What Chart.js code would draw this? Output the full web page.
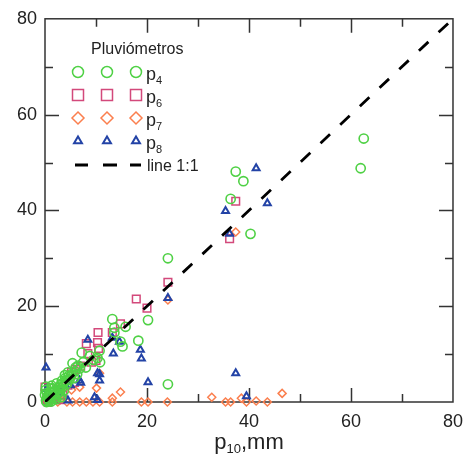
<!DOCTYPE html>
<html>
<head>
<meta charset="utf-8">
<script src="https://cdn.jsdelivr.net/npm/chart.js@4/dist/chart.umd.min.js"></script>
<style>
  html, body { margin: 0; padding: 0; background: #fff; }
  canvas { display: block; }
</style>
</head>
<body>
<canvas id="c" width="472" height="455"></canvas>
<script>
// p10 (x) vs gauge readings (y), mm
const p4X = [62.5, 61.9, 37.4, 38.9, 36.4, 40.3, 24.1, 24.1, 20.2, 13.2, 13.6, 13.6, 15.8, 14.8, 15.2, 18.3, 7.2, 10.7, 10.3, 10.8,
             8.8, 7.5, 5.4, 6.0, 6.8, 5.0, 4.5, 4.0, 3.9, 3.3, 2.8, 2.3, 2.0, 1.5, 1.4, 1.0, 0.4, 0.2, 0.8, 1.8,
             2.5, 3.0, 3.5, 4.3, 4.8, 5.7, 6.3, 8.0, 9.5, 0.1, 0.5, 1.2, 0.3, 2.2, 3.2,
             0.6, 1.1, 1.7, 2.6, 3.1, 3.6, 4.1, 4.6, 5.2, 5.9, 6.5, 0.9, 2.9, 1.9, 3.7, 0.0, 0.2, 1.3];
const p4Y = [55, 48.8, 48.1, 46.1, 42.4, 35.1, 30, 3.7, 17.1, 17.3, 15.5, 14.5, 15.7, 12.6, 11.6, 12.8, 10.3, 10.7, 9.2, 8.3,
             9.6, 8.3, 8.1, 7.2, 7.0, 5.3, 6.2, 5.0, 5.6, 4.4, 3.0, 3.9, 2.4, 2.8, 2.9, 2.0, 1.9, 0.3, 0.5, 1.6,
             1.8, 2.2, 3.2, 3.8, 4.6, 5.0, 5.8, 7.2, 8.8, 2.5, 1.2, 0.1, 0.0, 0.6, 1.0,
             0.9, 1.4, 2.1, 2.6, 3.6, 4.0, 4.4, 5.4, 5.8, 6.4, 7.6, 0.2, 1.4, 0.9, 2.4, 1.5, 3.2, 3.4];

const p6X = [37.4, 36.2, 24.1, 17.9, 20.0, 14.8, 13.2, 10.5, 10.4, 10.3, 10.0, 8.4, 8.1, 9.1, 5.2, 5.8, 0.0, 0.3, 2.5, 3.5,
             1.5, 4.5, 7.0, 6.0, 2.0, 1.0, 0.6, 3.0];
const p6Y = [41.9, 34.1, 25.0, 21.5, 19.6, 16.3, 14.5, 11.2, 14.5, 12.4, 8.7, 10.1, 12.2, 8.3, 6.2, 4.1, 3.1, 0.4, 2.7, 1.5,
             0.8, 3.5, 7.5, 6.8, 1.5, 2.2, 0.0, 0.5];

const p7X = [37.4, 24.1, 46.5, 43.6, 41.4, 39.5, 38.5, 36.4, 35.4, 32.7, 24.0, 20.2, 18.9, 14.8, 13.2, 13.2, 10.7, 9.4, 8.1, 6.8,
             5.4, 4.3, 10.1, 10.7, 2.5, 1.0, 0.4, 6.8, 5.2, 3.0];
const p7Y = [35.5, 21.3, 1.8, 0.0, 0.2, 0.0, 0.8, 0.0, 0.0, 1.0, 0.0, 0.0, 0.0, 2.1, 0.8, 0.0, 0.0, 0.0, 0.0, 0.0,
             0.0, 0.0, 2.9, 6.0, 0.0, 0.0, 0.0, 3.1, 2.5, 0.5];

const p8X = [41.4, 43.6, 35.4, 36.2, 37.4, 39.5, 24.1, 20.2, 13.4, 18.7, 18.9, 14.6, 13.2, 8.4, 0.2, 10.7, 10.7, 10.3, 6.8, 0.4,
             9.7, 10.3, 5.0, 3.0, 1.0, 7.0, 4.5];
const p8Y = [48.8, 41.5, 39.9, 35.1, 6.0, 1.2, 21.7, 4.1, 10.1, 10.9, 9.1, 12.6, 13.4, 13.0, 7.2, 5.8, 4.5, 6.0, 4.5, 2.7,
             1.0, 0.4, 3.5, 2.0, 1.0, 4.0, 0.3];

const lineX = [0, 80];
const lineY = [0, 80];

const axisMin = 0, axisMax = 80;
const majorStep = 20, minorStep = 10;

const legendTitle = 'Pluviómetros';
const gaugeSubs = ['4', '6', '7', '8'];
const lineLabel = 'line 1:1';

const GREEN = '#4fd145', PINK = '#d3497b', ORANGE = '#fb7f4e', BLUE = '#2343a6';
const FONT = '"Liberation Sans", Arial, sans-serif';
const INK = '#222';

const pts = (xs, ys) => xs.map((x, i) => ({ x, y: ys[i] }));

// marker shapes shared by the legend
function marker(ctx, style, cx, cy, r) {
  ctx.beginPath();
  if (style === 'circle') {
    ctx.arc(cx, cy, r, 0, Math.PI * 2);
  } else if (style === 'rect') {
    ctx.rect(cx - r, cy - r, 2 * r, 2 * r);
  } else if (style === 'rectRot') {
    ctx.moveTo(cx, cy - r); ctx.lineTo(cx + r, cy);
    ctx.lineTo(cx, cy + r); ctx.lineTo(cx - r, cy);
    ctx.closePath();
  } else {
    const h = r * Math.sqrt(3) / 2;
    ctx.moveTo(cx, cy - r); ctx.lineTo(cx + h, cy + r / 2);
    ctx.lineTo(cx - h, cy + r / 2); ctx.closePath();
  }
  ctx.stroke();
}

// box frame with inward ticks on all four sides
const frame = {
  id: 'frame',
  beforeDatasetsDraw(chart) {
    const { ctx, chartArea: a, scales: { x, y } } = chart;
    ctx.save();
    ctx.strokeStyle = '#333';
    ctx.lineWidth = 1.5;
    ctx.strokeRect(a.left, a.top, a.right - a.left, a.bottom - a.top);
    ctx.beginPath();
    for (let v = axisMin + minorStep; v < axisMax; v += minorStep) {
      const len = v % majorStep === 0 ? 14 : 8;
      const px = Math.round(x.getPixelForValue(v)) + 0.5;
      const py = Math.round(y.getPixelForValue(v)) + 0.5;
      ctx.moveTo(px, a.bottom); ctx.lineTo(px, a.bottom - len);
      ctx.moveTo(px, a.top); ctx.lineTo(px, a.top + len);
      ctx.moveTo(a.left, py); ctx.lineTo(a.left + len, py);
      ctx.moveTo(a.right, py); ctx.lineTo(a.right - len, py);
    }
    ctx.stroke();
    ctx.restore();
  }
};

// legend + x title (both need subscripts)
const annot = {
  id: 'annot',
  afterDraw(chart) {
    const { ctx, chartArea: a } = chart;
    ctx.save();
    ctx.fillStyle = INK;
    ctx.textBaseline = 'alphabetic';
    ctx.textAlign = 'left';

    ctx.font = '16px ' + FONT;
    ctx.fillText(legendTitle, 91, 54);

    const rows = [
      { style: 'circle', color: GREEN, r: 5.5, w: 1.5 },
      { style: 'rect', color: PINK, r: 5.5, w: 1.5 },
      { style: 'rectRot', color: ORANGE, r: 6, w: 1.5 },
      { style: 'triangle', color: BLUE, r: 4.6, w: 2 }
    ];
    const cols = [78, 107, 136];
    const rowY = [72, 95, 118, 141, 165];
    rows.forEach((s, i) => {
      ctx.strokeStyle = s.color;
      ctx.lineWidth = s.w;
      cols.forEach(cx => marker(ctx, s.style, cx, rowY[i], s.r));
      ctx.fillStyle = INK;
      ctx.font = '18px ' + FONT;
      ctx.fillText('p', 146, rowY[i] + 8);
      const pw = ctx.measureText('p').width;
      ctx.font = '11px ' + FONT;
      ctx.fillText(gaugeSubs[i], 146 + pw, rowY[i] + 12);
    });
    ctx.strokeStyle = '#000';
    ctx.lineWidth = 2.8;
    ctx.beginPath();
    const ly = rowY[4];
    ctx.moveTo(75, ly); ctx.lineTo(88, ly);
    ctx.moveTo(103, ly); ctx.lineTo(117, ly);
    ctx.moveTo(130, ly); ctx.lineTo(141, ly);
    ctx.stroke();
    ctx.font = '16px ' + FONT;
    ctx.fillText(lineLabel, 147, ly + 6);

    // x axis title: p10,mm
    const big = '22px ' + FONT, small = '13px ' + FONT;
    ctx.font = big; const w1 = ctx.measureText('p').width, w3 = ctx.measureText(',mm').width;
    ctx.font = small; const w2 = ctx.measureText('10').width;
    let tx = (a.left + a.right) / 2 - (w1 + w2 + w3) / 2;
    const base = 449;
    ctx.font = big; ctx.fillText('p', tx, base); tx += w1;
    ctx.font = small; ctx.fillText('10', tx, base + 4); tx += w2;
    ctx.font = big; ctx.fillText(',mm', tx, base);
    ctx.restore();
  }
};

const scatterSet = (data, color, style, radius, width, order) => ({
  type: 'scatter',
  data,
  order,
  clip: false,
  pointStyle: style,
  pointRadius: radius,
  pointBorderWidth: width,
  pointBorderColor: color,
  pointBackgroundColor: 'rgba(0,0,0,0)',
  showLine: false
});

new Chart(document.getElementById('c'), {
  type: 'scatter',
  data: {
    datasets: [
      {
        type: 'line',
        data: pts(lineX, lineY),
        order: 0,
        borderColor: '#000',
        borderWidth: 2.8,
        borderDash: [13, 14],
        pointRadius: 0,
        fill: false
      },
      scatterSet(pts(p4X, p4Y), GREEN, 'circle', 4.6, 1.6, 1),
      scatterSet(pts(p8X, p8Y), BLUE, 'triangle', 4, 2, 2),
      scatterSet(pts(p6X, p6Y), PINK, 'rect', 5.4, 1.5, 3),
      scatterSet(pts(p7X, p7Y), ORANGE, 'rectRot', 4, 1.5, 4)
    ]
  },
  options: {
    responsive: false,
    devicePixelRatio: 1,
    animation: false,
    events: [],
    layout: { padding: { top: 15, right: 16, left: 0, bottom: 0 } },
    plugins: { legend: { display: false }, tooltip: { enabled: false } },
    scales: {
      x: {
        type: 'linear',
        min: axisMin, max: axisMax,
        grid: { display: false, drawTicks: false },
        border: { display: false },
        ticks: { stepSize: majorStep, padding: 9, color: INK, font: { family: FONT, size: 18 } },
        afterFit(scale) { scale.height = 53; }
      },
      y: {
        type: 'linear',
        min: axisMin, max: axisMax,
        grid: { display: false, drawTicks: false },
        border: { display: false },
        ticks: { stepSize: majorStep, padding: 8, color: INK, font: { family: FONT, size: 18 } },
        afterFit(scale) { scale.width = 45; }
      }
    }
  },
  plugins: [frame, annot]
});
</script>
</body>
</html>
